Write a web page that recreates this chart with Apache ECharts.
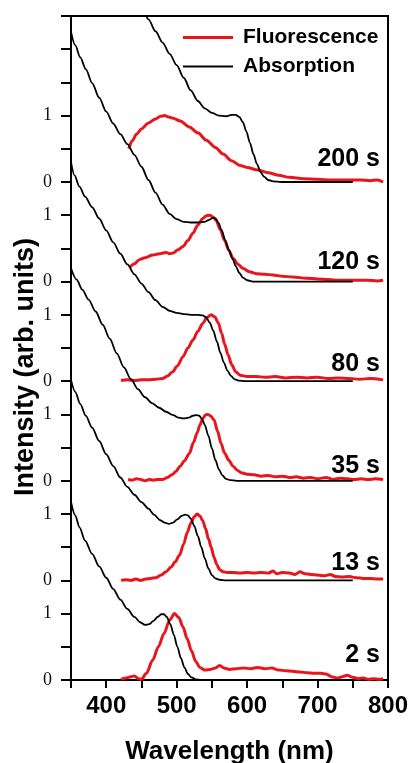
<!DOCTYPE html>
<html>
<head>
<meta charset="utf-8">
<script src="https://cdn.jsdelivr.net/npm/echarts@6/dist/echarts.min.js"></script>
<style>
html, body { margin: 0; padding: 0; background: #fff; }
#main { width: 413px; height: 763px; }
</style>
</head>
<body>
<div id="main"></div>
<script>
// time points, bottom to top
var panels = ['2 s', '13 s', '35 s', '80 s', '120 s', '200 s'];
var panelStep = 1.5;   // each spectrum lifted by 1.5 units

// absorption spectra [nm, normalised]
var ab2s = [[350,2.68],[356,2.48],[362,2.3],[370,2.1],[380,1.9],[390,1.71],[400,1.54],[410,1.37],[420,1.21],[430,1.07],[440,0.95],[448,0.87],[455,0.83],[461,0.84],[467,0.89],[473,0.95],[478,0.99],[482,0.99],[486,0.95],[491,0.84],[496,0.68],[501,0.5],[506,0.33],[511,0.19],[516,0.09],[521,0.04],[527,0.01],[535,0],[750,0]];
var ab13s = [[350,3.02],[356,2.84],[363,2.66],[371,2.48],[380,2.3],[390,2.1],[400,1.9],[410,1.72],[420,1.55],[430,1.41],[440,1.29],[450,1.18],[460,1.08],[468,0.99],[476,0.91],[483,0.87],[489,0.85],[495,0.87],[501,0.92],[507,0.97],[512,0.99],[516,0.98],[520,0.93],[525,0.82],[530,0.67],[535,0.5],[540,0.33],[545,0.18],[550,0.08],[555,0.03],[561,0.01],[570,0],[750,0]];
var ab35s = [[350,3.2],[358,3.03],[366,2.88],[375,2.73],[385,2.55],[395,2.35],[405,2.14],[415,1.92],[425,1.71],[435,1.53],[445,1.38],[455,1.26],[465,1.17],[475,1.1],[485,1.04],[495,0.99],[503,0.95],[510,0.94],[517,0.95],[523,0.98],[528,0.99],[532,0.98],[536,0.93],[540,0.84],[545,0.68],[550,0.49],[555,0.31],[560,0.17],[565,0.08],[570,0.03],[576,0.01],[585,0],[750,0]];
var ab80s = [[350,3.3],[355,3.1],[362,2.93],[370,2.78],[380,2.62],[390,2.45],[400,2.27],[410,2.09],[420,1.92],[430,1.76],[440,1.61],[450,1.47],[460,1.34],[470,1.22],[480,1.12],[490,1.06],[500,1.03],[510,1.01],[520,1.0],[530,1.0],[537,0.99],[542,0.96],[547,0.88],[552,0.76],[557,0.6],[562,0.43],[567,0.28],[572,0.16],[577,0.08],[582,0.03],[588,0.01],[598,0],[750,0]];
var ab120s = [[350,3.76],[356,3.56],[363,3.38],[371,3.2],[380,2.99],[390,2.77],[400,2.56],[410,2.38],[420,2.22],[430,2.07],[440,1.91],[450,1.73],[460,1.53],[470,1.34],[480,1.16],[490,1.02],[500,0.94],[510,0.9],[520,0.89],[530,0.89],[540,0.9],[546,0.93],[551,0.96],[555,0.95],[559,0.89],[564,0.77],[569,0.62],[574,0.48],[579,0.35],[584,0.23],[589,0.13],[594,0.06],[600,0.02],[608,0],[750,0]];
var ab200s = [[440,2.85],[450,2.64],[460,2.45],[470,2.27],[480,2.1],[490,1.93],[500,1.76],[510,1.57],[520,1.38],[530,1.22],[540,1.11],[550,1.04],[560,1.0],[570,0.99],[578,1.01],[584,1.01],[589,0.98],[594,0.9],[599,0.76],[604,0.59],[609,0.42],[614,0.27],[619,0.15],[624,0.08],[630,0.03],[637,0.01],[648,0],[750,0]];

// fluorescence spectra [nm, normalised]
var fl2s = [[421,0.01],[428,0.03],[435,0.05],[440,0.06],[446,0.02],[450,0.01],[457,0.1],[466,0.3],[474,0.5],[482,0.7],[490,0.9],[497,1.0],[503,0.94],[509,0.8],[515,0.62],[521,0.44],[527,0.28],[533,0.19],[540,0.15],[548,0.16],[555,0.18],[561,0.22],[567,0.18],[575,0.16],[585,0.17],[595,0.18],[605,0.17],[615,0.19],[625,0.17],[635,0.18],[645,0.15],[655,0.14],[665,0.13],[675,0.12],[685,0.11],[695,0.1],[705,0.1],[712,0.09],[720,0.05],[728,0.03],[735,0.05],[742,0.07],[750,0.04],[758,0.02],[765,0.03],[772,0.01],[780,0.02],[787,0.01],[793,0.02]];
var fl13s = [[421,0],[428,0.01],[435,0],[442,0.02],[449,0],[456,0.02],[463,0.03],[470,0.04],[478,0.08],[485,0.13],[492,0.2],[498,0.28],[504,0.38],[510,0.55],[515,0.72],[520,0.86],[525,0.96],[529,1.0],[533,0.97],[537,0.9],[541,0.78],[545,0.63],[549,0.5],[553,0.35],[557,0.24],[561,0.16],[566,0.13],[572,0.12],[580,0.12],[590,0.11],[600,0.12],[610,0.11],[620,0.12],[630,0.11],[637,0.14],[642,0.1],[650,0.12],[660,0.11],[668,0.09],[675,0.13],[682,0.1],[690,0.09],[700,0.08],[710,0.07],[718,0.09],[725,0.06],[735,0.05],[745,0.06],[755,0.04],[765,0.03],[775,0.03],[785,0.02],[793,0.02]];
var fl35s = [[431,0.02],[437,0.01],[443,0.03],[449,0.02],[455,0],[461,0.02],[467,0.01],[473,0.02],[480,0.02],[487,0.05],[493,0.09],[499,0.14],[505,0.22],[511,0.3],[518,0.41],[524,0.58],[529,0.72],[533,0.84],[537,0.94],[541,0.99],[544,1.0],[548,0.98],[553,0.92],[558,0.75],[563,0.56],[568,0.42],[574,0.31],[580,0.22],[586,0.16],[592,0.12],[600,0.1],[610,0.09],[620,0.07],[630,0.08],[640,0.06],[650,0.07],[660,0.05],[670,0.06],[680,0.04],[690,0.05],[700,0.03],[712,0.05],[722,0.02],[732,0.04],[742,0.03],[752,0.02],[762,0.03],[772,0.02],[782,0.03],[793,0.02]];
var fl80s = [[421,0.01],[430,0.02],[440,0.01],[450,0.02],[460,0.02],[470,0.03],[480,0.04],[487,0.08],[494,0.14],[501,0.23],[509,0.37],[516,0.5],[523,0.62],[530,0.75],[537,0.87],[543,0.96],[549,1.0],[554,0.97],[559,0.88],[564,0.72],[568,0.56],[573,0.4],[578,0.25],[584,0.14],[590,0.09],[600,0.07],[613,0.07],[625,0.06],[640,0.07],[655,0.05],[670,0.06],[685,0.05],[700,0.06],[715,0.04],[730,0.05],[745,0.04],[760,0.03],[775,0.04],[793,0.02]];
var fl120s = [[433,0.21],[440,0.27],[447,0.33],[455,0.36],[466,0.4],[476,0.42],[485,0.44],[490,0.42],[495,0.43],[502,0.48],[509,0.53],[516,0.62],[523,0.73],[530,0.85],[537,0.95],[542,0.99],[547,1.0],[552,0.97],[556,0.92],[562,0.78],[568,0.62],[574,0.47],[580,0.35],[587,0.26],[594,0.2],[603,0.15],[613,0.12],[625,0.11],[637,0.1],[650,0.08],[665,0.07],[684,0.05],[700,0.04],[715,0.03],[731,0.02],[750,0.02],[770,0.02],[785,0.01],[793,0.02]];
var fl200s = [[432,0.5],[437,0.62],[443,0.72],[450,0.8],[460,0.89],[470,0.95],[477,0.99],[483,1.0],[489,0.98],[495,0.96],[505,0.92],[518,0.83],[530,0.74],[542,0.63],[555,0.52],[566,0.42],[578,0.32],[590,0.25],[600,0.22],[615,0.18],[630,0.14],[645,0.1],[660,0.07],[680,0.05],[700,0.04],[720,0.03],[740,0.03],[760,0.03],[775,0.02],[785,0.03],[793,0]];

var absorption = [ab2s, ab13s, ab35s, ab80s, ab120s, ab200s];
var fluorescence = [fl2s, fl13s, fl35s, fl80s, fl120s, fl200s];

// tick labels inside one panel: 0 at the baseline, 1 one unit above
var panelTickLabels = ['0', '1'];

var chart = echarts.init(document.getElementById('main'));

function lift(arr, off) {
    return arr.map(function (p) { return [p[0], p[1] + off]; });
}

var red = '#e8161c';
var series = [];
var labelRise = [0.37, 0.26, 0.22, 0.26, 0.29, 0.35];
var labelData = [];
for (var i = 0; i < panels.length; i++) {
    var off = i * panelStep;
    series.push({
        name: 'Fluorescence', type: 'line', data: lift(fluorescence[i], off),
        showSymbol: false, symbol: 'none', smooth: 0.3, smoothMonotone: 'x',
        lineStyle: { color: red, width: 3 }, itemStyle: { color: red },
        z: 2
    });
    series.push({
        name: 'Absorption', type: 'line', data: lift(absorption[i], off),
        showSymbol: false, symbol: 'none', smooth: 0.3, smoothMonotone: 'x',
        lineStyle: { color: '#000', width: 1.8 }, itemStyle: { color: '#000' },
        z: 3
    });
    labelData.push({ name: panels[i], value: [790, off + labelRise[i]] });
}
series.push({
    type: 'scatter', data: labelData, symbolSize: 0, silent: true, z: 4,
    itemStyle: { opacity: 1 },
    label: {
        show: true, position: 'left', distance: 1, opacity: 1,
        formatter: function (p) { return p.name; },
        fontFamily: 'Liberation Sans', fontWeight: 'bold', fontSize: 25, color: '#000'
    }
});

var opt = {
    animation: false,
    backgroundColor: '#fff',
    grid: {
        left: 71, right: 25, top: 16, bottom: 83,
        outerBoundsMode: 'none', containLabel: false,
        show: true, borderColor: '#000', borderWidth: 2
    },
    legend: {
        data: [
            { name: 'Fluorescence', icon: 'rect' },
            { name: 'Absorption', icon: 'path://M0,0L1,0M0,0.5L50,0.5L50,2.5L0,2.5ZM0,3L1,3' }
        ],
        orient: 'vertical',
        left: 178, top: 22,
        itemWidth: 50, itemHeight: 3, itemGap: 8,
        selectedMode: false,
        textStyle: { fontFamily: 'Liberation Sans', fontWeight: 'bold', fontSize: 21, color: '#000', padding: [0, 0, 0, 5] }
    },
    xAxis: {
        type: 'value', min: 350, max: 800, interval: 50,
        name: 'Wavelength (nm)', nameLocation: 'middle', nameGap: 59, nameMoveOverlap: false,
        nameTextStyle: { fontFamily: 'Liberation Sans', fontWeight: 'bold', fontSize: 26, color: '#000' },
        axisLine: { lineStyle: { color: '#000', width: 2 } },
        axisTick: { length: 8, lineStyle: { color: '#000', width: 2 } },
        splitLine: { show: false },
        axisLabel: {
            margin: 14, showMaxLabel: true,
            fontFamily: 'Liberation Sans', fontWeight: 'bold', fontSize: 24, color: '#000',
            formatter: function (v) { return v % 100 === 0 ? String(v) : ''; }
        }
    },
    yAxis: {
        type: 'value', min: 0, max: 10, interval: 0.5,
        name: 'Intensity (arb. units)', nameLocation: 'middle', nameGap: 32, nameMoveOverlap: false,
        nameTextStyle: { fontFamily: 'Liberation Sans', fontWeight: 'bold', fontSize: 27, color: '#000', padding: [0, 38, 0, 0] },
        axisLine: { lineStyle: { color: '#000', width: 2 } },
        axisTick: { length: 10, lineStyle: { color: '#000', width: 2 } },
        splitLine: { show: false },
        axisLabel: {
            margin: 19,
            fontFamily: 'Liberation Serif', fontSize: 18, color: '#111',
            formatter: function (v) {
                var k = Math.round(v * 2);          // half-unit steps
                if (k > 17) return '';
                var r = k % 3;                       // 1.5 units = 3 steps
                if (r === 0) return panelTickLabels[0];
                if (r === 2) return panelTickLabels[1];
                return '';
            }
        }
    },
    series: series
};
chart.setOption(opt);
</script>
</body>
</html>
